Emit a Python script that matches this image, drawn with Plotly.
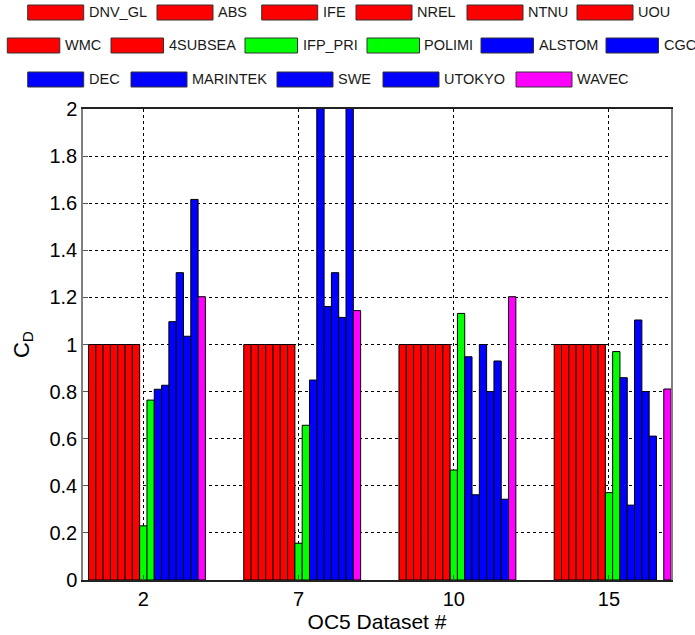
import plotly.graph_objects as go

# ---------------- data ----------------
datasets = ["2", "7", "10", "15"]

series_names = ["DNV_GL", "ABS", "IFE", "NREL", "NTNU", "UOU", "WMC", "4SUBSEA",
                "IFP_PRI", "POLIMI", "ALSTOM", "CGC", "DEC", "MARINTEK", "SWE",
                "UTOKYO", "WAVEC"]

DNV_GL = [None, None, None, None]
ABS = [1.0, 1.0, 1.0, 1.0]
IFE = [1.0, 1.0, 1.0, 1.0]
NREL = [1.0, 1.0, 1.0, 1.0]
NTNU = [1.0, 1.0, 1.0, 1.0]
UOU = [1.0, 1.0, 1.0, 1.0]
WMC = [1.0, 1.0, 1.0, 1.0]
SUBSEA4 = [1.0, 1.0, 1.0, 1.0]
IFP_PRI = [0.23, 0.156, 0.467, 0.371]
POLIMI = [0.764, 0.657, 1.132, 0.97]
ALSTOM = [0.81, 0.849, 0.948, 0.859]
CGC = [0.827, 2.2, 0.362, 0.318]
DEC = [1.097, 1.161, 1.0, 1.104]
MARINTEK = [1.305, 1.305, 0.80, 0.80]
SWE = [1.035, 1.115, 0.93, 0.611]
UTOKYO = [1.616, 2.2, 0.343, None]
WAVEC = [1.203, 1.144, 1.203, 0.811]

series_values = [DNV_GL, ABS, IFE, NREL, NTNU, UOU, WMC, SUBSEA4, IFP_PRI, POLIMI,
                 ALSTOM, CGC, DEC, MARINTEK, SWE, UTOKYO, WAVEC]

y_ticks = [0, 0.2, 0.4, 0.6, 0.8, 1, 1.2, 1.4, 1.6, 1.8, 2]
y_tick_labels = ["0", "0.2", "0.4", "0.6", "0.8", "1", "1.2", "1.4", "1.6", "1.8", "2"]

# ---------------- styles ----------------
RED, GREEN, BLUE, MAG = "#FF0000", "#00FF00", "#0000FF", "#FF00FF"
series_colors = [RED] * 8 + [GREEN] * 2 + [BLUE] * 6 + [MAG]

FONT = "Liberation Sans, Arial, sans-serif"

W, H = 695, 635
L, R, T, B = 83, 671, 109, 580  # plot area pixel box

fig = go.Figure()
for name, vals, col in zip(series_names, series_values, series_colors):
    fig.add_trace(go.Bar(
        x=datasets, y=vals, name=name,
        marker=dict(color=col, line=dict(color="#000000", width=1)),
        showlegend=False,
    ))

# ---------------- custom legend (wide swatches like the reference) ----------------
legend_rows = [
    (["DNV_GL", "ABS", "IFE", "NREL", "NTNU", "UOU"],
     [27.7, 157, 261.7, 356, 467, 577], 56, 5, 20),
    (["WMC", "4SUBSEA", "IFP_PRI", "POLIMI", "ALSTOM", "CGC"],
     [7.3, 111, 245, 367, 481, 606], 52.5, 38, 53),
    (["DEC", "MARINTEK", "SWE", "UTOKYO", "WAVEC"],
     [27.7, 131, 277, 383, 516], 56, 72, 87),
]

def px_x(p):
    return (p - L) / (R - L)

def px_y(p):
    return (B - p) / (B - T)

shapes = []
annotations = []
for names, lefts, sw, y0, y1 in legend_rows:
    for nm, lx in zip(names, lefts):
        col = series_colors[series_names.index(nm)]
        shapes.append(dict(type="rect", xref="paper", yref="paper",
                           x0=px_x(lx), x1=px_x(lx + sw), y0=px_y(y1), y1=px_y(y0),
                           fillcolor=col, line=dict(color="#333333", width=1)))
        annotations.append(dict(xref="paper", yref="paper", x=px_x(lx + sw + 3),
                                y=px_y((y0 + y1) / 2), text=nm, showarrow=False,
                                xanchor="left", yanchor="middle",
                                font=dict(family=FONT, size=14.5, color="#1a1a1a")))

fig.update_layout(
    width=W, height=H, autosize=False,
    margin=dict(l=L, r=W - R, t=T, b=H - B, pad=0),
    paper_bgcolor="white", plot_bgcolor="white",
    barmode="group", bargap=0.2, bargroupgap=0,
    font=dict(family=FONT, size=20, color="#000000"),
    shapes=shapes, annotations=annotations,
    showlegend=False,
)

fig.update_xaxes(
    type="category", range=[-0.3885, 3.3995], automargin=False,
    showgrid=True, gridcolor="#000000", griddash="3px,3px", gridwidth=1,
    showline=True, linecolor="#222222", linewidth=1.5, mirror=True,
    ticks="inside", ticklen=5, tickcolor="#555555",
    tickfont=dict(family=FONT, size=20, color="#000000"),
    title=dict(text="OC5 Dataset #", font=dict(family=FONT, size=21, color="#000000"),
               standoff=6),
)
fig.update_yaxes(
    range=[0, 2], tickvals=y_ticks, ticktext=y_tick_labels, automargin=False,
    showgrid=True, gridcolor="#000000", griddash="3px,3px", gridwidth=1,
    zeroline=False,
    showline=True, linecolor="#808080", linewidth=1.5, mirror=True,
    ticks="inside", ticklen=5, tickcolor="#555555",
    tickfont=dict(family=FONT, size=20, color="#000000"),
    title=dict(text="C<sub>D</sub>", font=dict(family=FONT, size=22, color="#000000"),
               standoff=14),
)

fig.write_html("out.html", config={"responsive": False, "displayModeBar": False},
               post_script="document.body.style.margin='0px';")
